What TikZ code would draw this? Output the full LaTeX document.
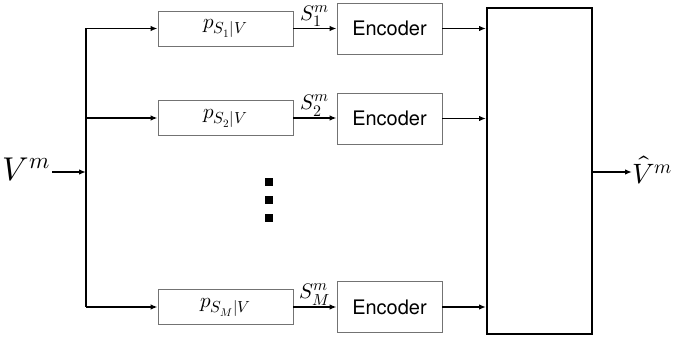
\documentclass[tikz,border=0pt]{standalone}
\usepackage{unicode-math}
\setmathfont{Latin Modern Math}
\newfontfamily\helv{TeX Gyre Heros}
\usetikzlibrary{arrows.meta}
\newcommand{\bigsub}[1]{\mbox{\fontsize{16}{18}\selectfont$#1$}}
\newcommand{\lblsc}[1]{\mbox{\fontsize{16}{18}\selectfont$#1$}}
\begin{document}
\begin{tikzpicture}[x=1pt,y=-1pt,
  pbox/.style={draw=black!55,line width=0.9pt,minimum width=135pt,minimum height=35pt,inner sep=0pt,font=\fontsize{21}{23}\selectfont},
  encbox/.style={draw=black!55,line width=0.9pt,minimum width=105pt,minimum height=51pt,inner sep=0pt,font=\helv\fontsize{20}{22}\selectfont},
  bigbox/.style={draw=black,line width=2pt,minimum width=105pt,minimum height=326pt,inner sep=0pt},
  arr/.style={line width=1.8pt,-{Latex[length=7pt,width=5.5pt]}},
  ln/.style={line width=1.8pt},
  slab/.style={anchor=south,inner sep=0pt,font=\fontsize{21}{23}\selectfont},
  dot/.style={fill=black,minimum size=8pt,inner sep=0pt}]
\useasboundingbox (0,0) rectangle (674,339);
\node[pbox] (p1) at (225.5,28.5) {$p_{\bigsub{S_1|V}}$};
\node[pbox] (p2) at (225.5,118) {$p_{\bigsub{S_2|V}}$};
\node[pbox] (pM) at (225.5,307) {$p_{\bigsub{S_M|V}}$};
\node[encbox] (e1) at (389.5,28.5) {Encoder};
\node[encbox] (e2) at (389.5,118.5) {Encoder};
\node[encbox] (eM) at (389.5,307) {Encoder};
\node[bigbox] (dec) at (539.5,171) {};
\node[anchor=east,inner sep=0pt,font=\fontsize{33}{35}\selectfont] (vin) at (50,170) {$V^m$};
\node[anchor=west,inner sep=0pt,font=\fontsize{28}{30}\selectfont] (vout) at (632,170) {$\hat{V}^m$};
\coordinate (t1) at (86,28.5);
\coordinate (t2) at (86,118);
\coordinate (tM) at (86,307);
\coordinate (tin) at (86,172);
\coordinate (vinr) at (52,172);
\coordinate (vouts) at (592,172);
\coordinate (voute) at (632,172);
\draw[ln] (t1) -- (tM);
\draw[arr] (vinr) -- (tin);
\draw[arr] (t1) -- (p1.west);
\draw[arr] (t2) -- (p2.west);
\draw[arr] (tM) -- (pM.west);
\draw[arr] (p1.east) -- (e1.west) node[slab,midway,yshift=1pt] {$S^{\lblsc{m}}_{\lblsc{1}}$};
\draw[arr] (p2.east) -- (e2.west |- p2.east) node[slab,midway,yshift=1pt] {$S^{\lblsc{m}}_{\lblsc{2}}$};
\draw[arr] (pM.east) -- (eM.west) node[slab,midway,yshift=1pt] {$S^{\lblsc{m}}_{\lblsc{M}}$};
\draw[arr] (e1.east) -- (dec.west |- e1.east);
\draw[arr] (e2.east) -- (dec.west |- e2.east);
\draw[arr] (eM.east) -- (dec.west |- eM.east);
\draw[arr] (vouts) -- (voute);
\node[dot] (d1) at (269,182) {};
\node[dot] (d2) at (269,200) {};
\node[dot] (d3) at (269,218) {};
\end{tikzpicture}
\end{document}
